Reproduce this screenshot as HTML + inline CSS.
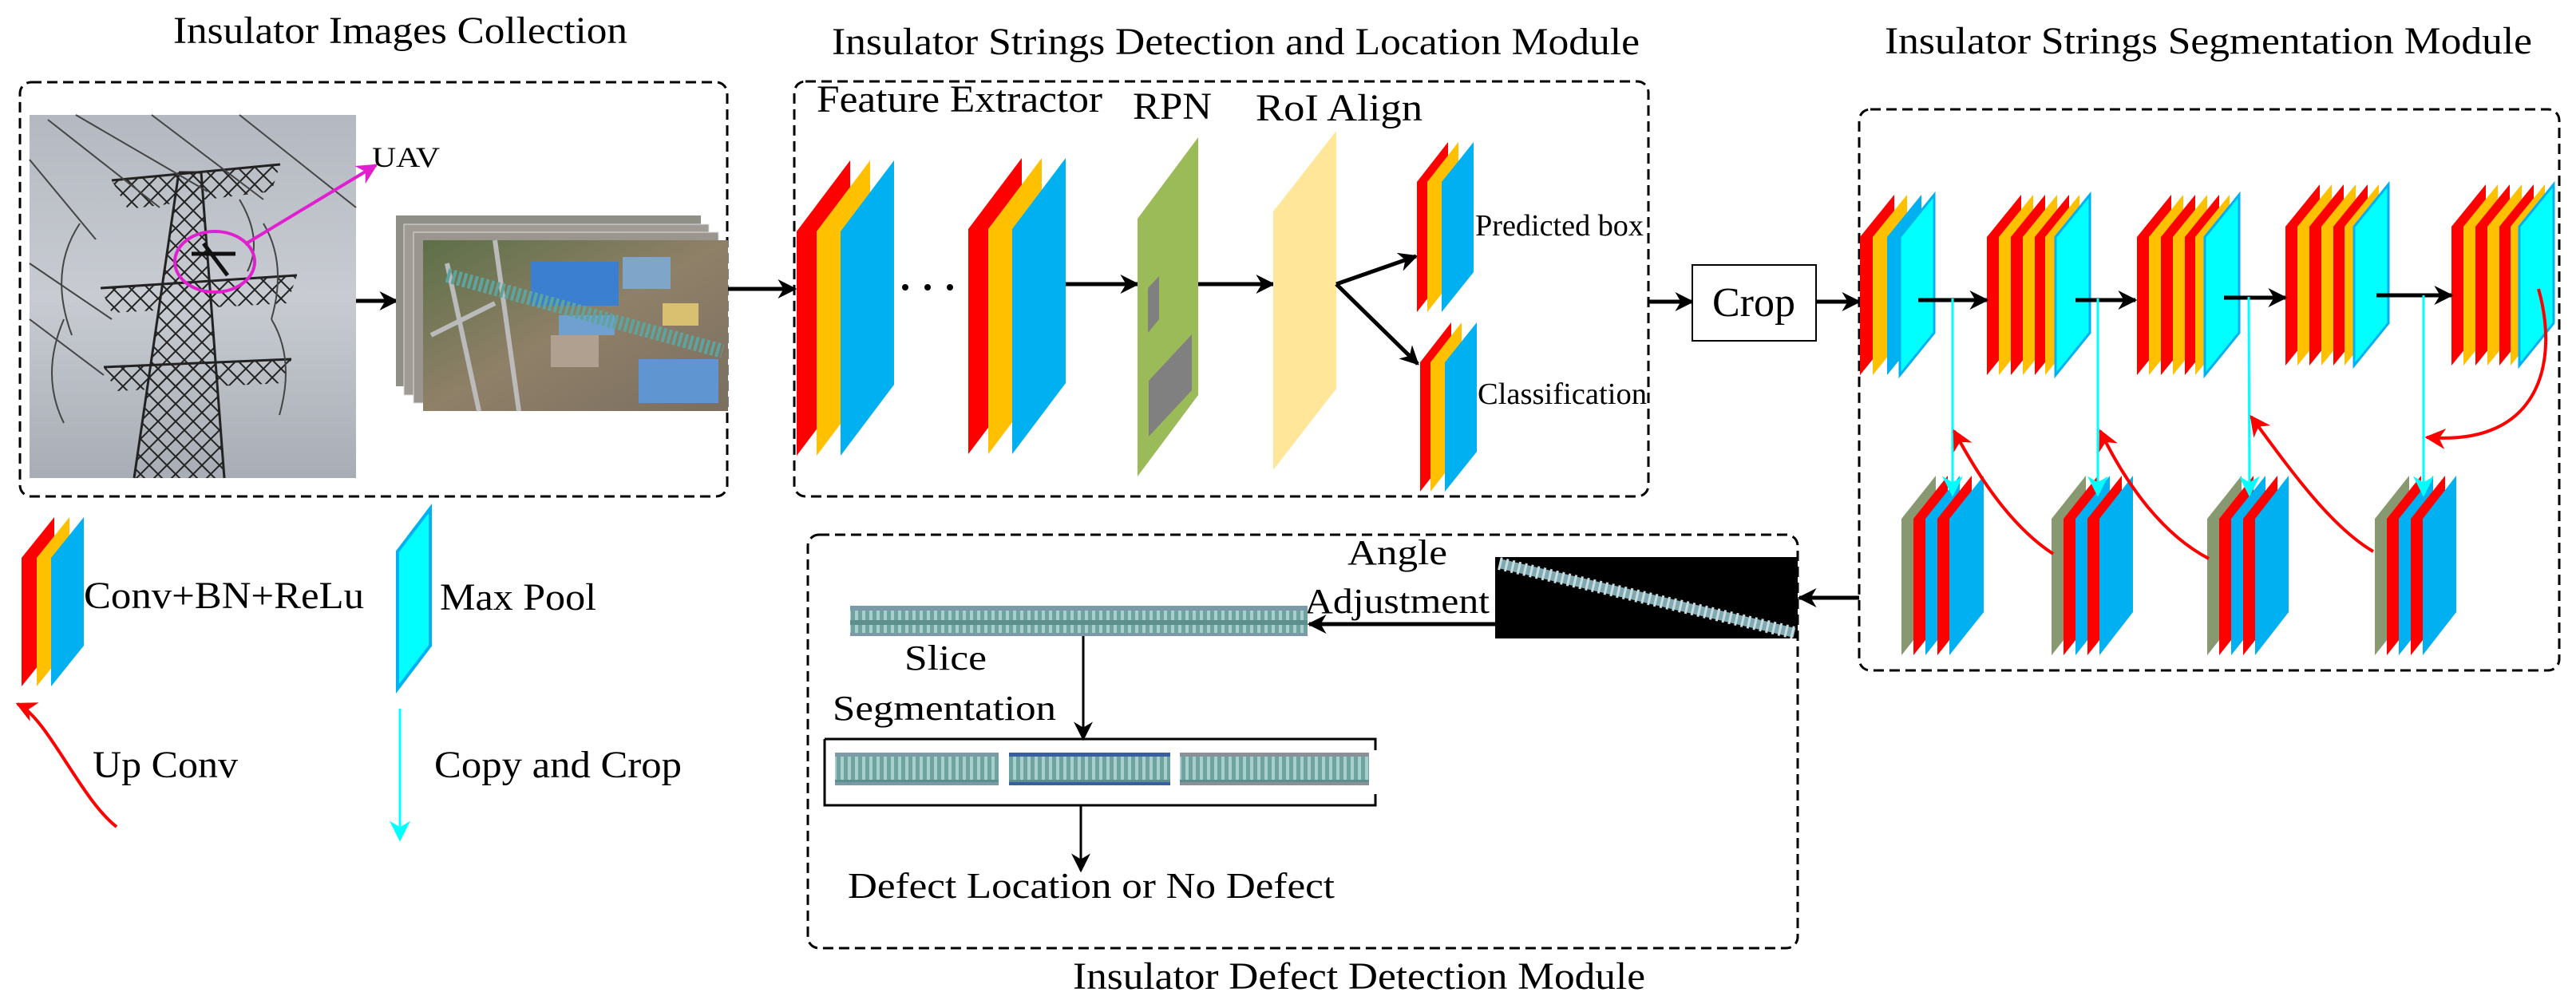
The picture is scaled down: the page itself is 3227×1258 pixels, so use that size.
<!DOCTYPE html>
<html><head><meta charset="utf-8"><style>
html,body{margin:0;padding:0;background:#fff;}
svg{display:block;}
text{font-family:"Liberation Serif",serif;fill:#000;}
</style></head><body>
<svg width="3227" height="1258" viewBox="0 0 3227 1258" xmlns="http://www.w3.org/2000/svg">
<defs>
<marker id="ab" viewBox="0 0 10 10" refX="9" refY="5" markerWidth="24" markerHeight="24" markerUnits="userSpaceOnUse" orient="auto"><path d="M0,0 L10,5 L0,10 L3,5 z" fill="#000"/></marker>
<marker id="ac" viewBox="0 0 10 10" refX="9" refY="5" markerWidth="26" markerHeight="26" markerUnits="userSpaceOnUse" orient="auto"><path d="M0,0 L10,5 L0,10 L3,5 z" fill="#00FFFF"/></marker>
<marker id="ar" viewBox="0 0 10 10" refX="9" refY="5" markerWidth="26" markerHeight="26" markerUnits="userSpaceOnUse" orient="auto"><path d="M0,0 L10,5 L0,10 L3,5 z" fill="#FF0000"/></marker>
<marker id="am" viewBox="0 0 10 10" refX="9" refY="5" markerWidth="26" markerHeight="26" markerUnits="userSpaceOnUse" orient="auto"><path d="M0,0 L10,5 L0,10 L3,5 z" fill="#E020D0"/></marker>
<linearGradient id="sky" x1="0" y1="0" x2="0" y2="1"><stop offset="0" stop-color="#b4b8c0"/><stop offset="0.5" stop-color="#c8ccd2"/><stop offset="1" stop-color="#a8adb5"/></linearGradient>
<linearGradient id="ground" x1="0" y1="0" x2="1" y2="1"><stop offset="0" stop-color="#5d7048"/><stop offset="0.5" stop-color="#8f8068"/><stop offset="1" stop-color="#7a6e60"/></linearGradient>
<pattern id="fins" width="9" height="40" patternUnits="userSpaceOnUse"><rect width="9" height="40" fill="#6fa3a0"/><rect x="0" width="4" height="40" fill="#a9cfcc"/><rect x="0" y="17" width="9" height="6" fill="#5d8f8c"/></pattern>
<pattern id="lat" width="22" height="22" patternUnits="userSpaceOnUse"><path d="M0,0 L22,22 M22,0 L0,22" stroke="#222" stroke-width="2"/></pattern>
</defs>

<text x="217" y="54" font-size="48" textLength="569" lengthAdjust="spacingAndGlyphs">Insulator Images Collection</text>
<text x="1042" y="68" font-size="48" textLength="1012" lengthAdjust="spacingAndGlyphs">Insulator Strings Detection and Location Module</text>
<text x="2361" y="67" font-size="48" textLength="811" lengthAdjust="spacingAndGlyphs">Insulator Strings Segmentation Module</text>
<text x="1344" y="1239" font-size="48" textLength="717" lengthAdjust="spacingAndGlyphs">Insulator Defect Detection Module</text>

<g fill="none" stroke="#000" stroke-width="3" stroke-dasharray="13 7">
<rect x="25" y="103" width="886" height="519" rx="14"/>
<rect x="995" y="102" width="1070" height="520" rx="14"/>
<rect x="2329" y="137" width="877" height="703" rx="14"/>
<rect x="1012" y="670" width="1240" height="518" rx="14"/>
</g>

<!-- Tower photo -->
<rect x="37" y="144" width="409" height="455" fill="url(#sky)"/>
<polygon points="168,599 224,216 252,216 281,599" fill="url(#lat)"/>
<polygon points="140,226 351,206 340,240 160,262" fill="url(#lat)"/>
<polygon points="126,361 372,345 360,380 140,392" fill="url(#lat)"/>
<polygon points="130,460 365,450 355,480 145,490" fill="url(#lat)"/>
<g stroke="#222" stroke-width="3" fill="none">
<path d="M168,599 L224,216 M281,599 L252,216 M224,216 L252,216"/>
<path d="M140,226 L351,206 M126,361 L372,345 M130,460 L365,450"/>
</g>
<g stroke="#444" stroke-width="2" fill="none">
<path d="M60,150 L200,260 M95,144 L260,240 M190,144 L330,250 M300,144 L446,260 M37,330 L140,400 M37,400 L130,470 M37,200 L120,300"/>
<path d="M100,280 Q60,340 90,420 M80,400 Q50,470 80,530 M330,280 Q360,330 340,400 M340,400 Q370,450 350,520 M300,250 Q330,300 310,340"/>
</g>
<ellipse cx="269" cy="328" rx="50" ry="38" fill="none" stroke="#E020D0" stroke-width="4"/>
<path d="M240,318 L295,318 M255,305 L285,345" stroke="#111" stroke-width="5"/>
<line x1="307" y1="306" x2="471" y2="207" stroke="#E020D0" stroke-width="4" marker-end="url(#am)"/>
<text x="466" y="209" font-size="36" textLength="85" lengthAdjust="spacingAndGlyphs">UAV</text>

<line x1="446" y1="377" x2="497" y2="377" stroke="#000" stroke-width="5" marker-end="url(#ab)"/>

<rect x="496" y="270" width="382" height="214" fill="#8f8f88"/>
<rect x="506" y="281" width="382" height="214" fill="#a09c95" stroke="#ddd"/>
<rect x="518" y="291" width="382" height="214" fill="#9a968f" stroke="#ddd"/>
<rect x="530" y="301" width="382" height="214" fill="url(#ground)"/>
<rect x="665" y="328" width="110" height="55" fill="#3a7fd0"/>
<rect x="780" y="322" width="60" height="40" fill="#7fa6c8"/>
<rect x="800" y="450" width="100" height="55" fill="#5f95d0"/>
<rect x="700" y="395" width="70" height="25" fill="#6fa0d0"/>
<rect x="830" y="380" width="45" height="28" fill="#d8c070"/>
<rect x="690" y="420" width="60" height="40" fill="#b0a090"/>
<path d="M560,330 L600,515 M620,301 L650,515 M540,420 L620,380" stroke="#bbb" stroke-width="6" fill="none"/>
<line x1="560" y1="345" x2="905" y2="440" stroke="#5ea39c" stroke-width="18" stroke-dasharray="4 3"/>
<line x1="912" y1="362" x2="996" y2="362" stroke="#000" stroke-width="5" marker-end="url(#ab)"/>

<text x="1023" y="140" font-size="48" textLength="358" lengthAdjust="spacingAndGlyphs">Feature Extractor</text>
<text x="1419" y="149" font-size="48" textLength="99" lengthAdjust="spacingAndGlyphs">RPN</text>
<text x="1573" y="151" font-size="48" textLength="209" lengthAdjust="spacingAndGlyphs">RoI Align</text>

<polygon points="998,290 1065,201 1065,482 998,571" fill="#FF0000"/>
<polygon points="1023,290 1090,201 1090,482 1023,571" fill="#FFC000"/>
<polygon points="1053,290 1120,201 1120,482 1053,571" fill="#00B0F0"/>
<circle cx="1134" cy="360" r="4" fill="#000"/><circle cx="1162" cy="360" r="4" fill="#000"/><circle cx="1190" cy="360" r="4" fill="#000"/>
<polygon points="1213,287 1280,198 1280,480 1213,569" fill="#FF0000"/>
<polygon points="1238,287 1305,198 1305,480 1238,569" fill="#FFC000"/>
<polygon points="1268,287 1335,198 1335,480 1268,569" fill="#00B0F0"/>
<line x1="1335" y1="356" x2="1425" y2="356" stroke="#000" stroke-width="5" marker-end="url(#ab)"/>
<polygon points="1425,274 1501,172 1501,495 1425,597" fill="#9BBB59"/>
<polygon points="1438,361 1452,346 1452,400 1438,417" fill="#808080"/>
<polygon points="1439,477 1493,419 1493,489 1439,547" fill="#808080"/>
<line x1="1501" y1="356" x2="1595" y2="356" stroke="#000" stroke-width="5" marker-end="url(#ab)"/>
<polygon points="1595,265 1674,164 1674,487 1595,589" fill="#FFE699"/>
<line x1="1674" y1="356" x2="1774" y2="321" stroke="#000" stroke-width="5" marker-end="url(#ab)"/>
<line x1="1674" y1="356" x2="1776" y2="456" stroke="#000" stroke-width="5" marker-end="url(#ab)"/>
<polygon points="1775,228 1814,178 1814,341 1775,391" fill="#FF0000"/>
<polygon points="1788,228 1827,178 1827,341 1788,391" fill="#FFC000"/>
<polygon points="1806,228 1846,178 1846,341 1806,391" fill="#00B0F0"/>
<polygon points="1779,454 1818,404 1818,566 1779,616" fill="#FF0000"/>
<polygon points="1792,454 1831,404 1831,566 1792,616" fill="#FFC000"/>
<polygon points="1810,454 1850,404 1850,566 1810,616" fill="#00B0F0"/>
<text x="1848" y="295" font-size="38" textLength="211" lengthAdjust="spacingAndGlyphs">Predicted box</text>
<text x="1851" y="506" font-size="38" textLength="212" lengthAdjust="spacingAndGlyphs">Classification</text>

<line x1="2065" y1="378" x2="2120" y2="378" stroke="#000" stroke-width="5" marker-end="url(#ab)"/>
<rect x="2120" y="332" width="155" height="95" fill="#fff" stroke="#000" stroke-width="2"/>
<text x="2197" y="396" font-size="52" text-anchor="middle">Crop</text>
<line x1="2275" y1="378" x2="2329" y2="378" stroke="#000" stroke-width="5" marker-end="url(#ab)"/>

<g>
<polygon points="2330,297 2373,244 2373,417 2330,470" fill="#FF0000"/>
<polygon points="2346,297 2389,244 2389,417 2346,470" fill="#FFC000"/>
<polygon points="2364,297 2407,244 2407,417 2364,470" fill="#00B0F0"/>
<polygon points="2380,297 2423,244 2423,417 2380,470" fill="#00FFFF" stroke="#00B0F0" stroke-width="3"/>

<polygon points="2489,297 2532,244 2532,417 2489,470" fill="#FF0000"/>
<polygon points="2504,297 2547,244 2547,417 2504,470" fill="#FFC000"/>
<polygon points="2519,297 2562,244 2562,417 2519,470" fill="#FF0000"/>
<polygon points="2534,297 2577,244 2577,417 2534,470" fill="#FFC000"/>
<polygon points="2549,297 2592,244 2592,417 2549,470" fill="#FF0000"/>
<polygon points="2562,297 2605,244 2605,417 2562,470" fill="#FFC000"/>
<polygon points="2575,297 2618,244 2618,417 2575,470" fill="#00FFFF" stroke="#00B0F0" stroke-width="3"/>

<polygon points="2677,297 2720,244 2720,417 2677,470" fill="#FF0000"/>
<polygon points="2692,297 2735,244 2735,417 2692,470" fill="#FFC000"/>
<polygon points="2707,297 2750,244 2750,417 2707,470" fill="#FF0000"/>
<polygon points="2722,297 2765,244 2765,417 2722,470" fill="#FFC000"/>
<polygon points="2737,297 2780,244 2780,417 2737,470" fill="#FF0000"/>
<polygon points="2750,297 2793,244 2793,417 2750,470" fill="#FFC000"/>
<polygon points="2762,297 2805,244 2805,417 2762,470" fill="#00FFFF" stroke="#00B0F0" stroke-width="3"/>

<polygon points="2863,284 2906,231 2906,405 2863,458" fill="#FF0000"/>
<polygon points="2878,284 2921,231 2921,405 2878,458" fill="#FFC000"/>
<polygon points="2893,284 2936,231 2936,405 2893,458" fill="#FF0000"/>
<polygon points="2908,284 2951,231 2951,405 2908,458" fill="#FFC000"/>
<polygon points="2923,284 2966,231 2966,405 2923,458" fill="#FF0000"/>
<polygon points="2937,284 2980,231 2980,405 2937,458" fill="#FFC000"/>
<polygon points="2949,284 2992,231 2992,405 2949,458" fill="#00FFFF" stroke="#00B0F0" stroke-width="3"/>

<polygon points="3071,284 3114,231 3114,405 3071,458" fill="#FF0000"/>
<polygon points="3086,284 3129,231 3129,405 3086,458" fill="#FFC000"/>
<polygon points="3101,284 3144,231 3144,405 3101,458" fill="#FF0000"/>
<polygon points="3116,284 3159,231 3159,405 3116,458" fill="#FFC000"/>
<polygon points="3131,284 3174,231 3174,405 3131,458" fill="#FF0000"/>
<polygon points="3145,284 3188,231 3188,405 3145,458" fill="#FFC000"/>
<polygon points="3156,284 3199,231 3199,405 3156,458" fill="#00FFFF" stroke="#00B0F0" stroke-width="3"/>
</g>
<g stroke="#000" stroke-width="5">
<line x1="2403" y1="376" x2="2489" y2="376" marker-end="url(#ab)"/>
<line x1="2600" y1="376" x2="2675" y2="376" marker-end="url(#ab)"/>
<line x1="2786" y1="373" x2="2863" y2="373" marker-end="url(#ab)"/>
<line x1="2977" y1="370" x2="3071" y2="370" marker-end="url(#ab)"/>
</g>

<g>
<polygon points="2382,650 2425,596 2425,767 2382,821" fill="#889870"/>
<polygon points="2397,650 2440,596 2440,767 2397,821" fill="#FF0000"/>
<polygon points="2412,650 2455,596 2455,767 2412,821" fill="#00B0F0"/>
<polygon points="2427,650 2470,596 2470,767 2427,821" fill="#FF0000"/>
<polygon points="2442,650 2485,596 2485,767 2442,821" fill="#00B0F0"/>

<polygon points="2570,650 2613,596 2613,767 2570,821" fill="#889870"/>
<polygon points="2585,650 2628,596 2628,767 2585,821" fill="#FF0000"/>
<polygon points="2600,650 2643,596 2643,767 2600,821" fill="#00B0F0"/>
<polygon points="2615,650 2658,596 2658,767 2615,821" fill="#FF0000"/>
<polygon points="2630,650 2672,596 2672,767 2630,821" fill="#00B0F0"/>

<polygon points="2765,650 2808,596 2808,767 2765,821" fill="#889870"/>
<polygon points="2780,650 2823,596 2823,767 2780,821" fill="#FF0000"/>
<polygon points="2795,650 2838,596 2838,767 2795,821" fill="#00B0F0"/>
<polygon points="2810,650 2853,596 2853,767 2810,821" fill="#FF0000"/>
<polygon points="2825,650 2867,596 2867,767 2825,821" fill="#00B0F0"/>

<polygon points="2975,650 3018,596 3018,767 2975,821" fill="#889870"/>
<polygon points="2990,650 3033,596 3033,767 2990,821" fill="#FF0000"/>
<polygon points="3005,650 3048,596 3048,767 3005,821" fill="#00B0F0"/>
<polygon points="3020,650 3063,596 3063,767 3020,821" fill="#FF0000"/>
<polygon points="3035,650 3077,596 3077,767 3035,821" fill="#00B0F0"/>
</g>
<g stroke="#00FFFF" stroke-width="3">
<line x1="2446" y1="374" x2="2446" y2="620" marker-end="url(#ac)"/>
<line x1="2628" y1="374" x2="2628" y2="620" marker-end="url(#ac)"/>
<line x1="2817" y1="372" x2="2818" y2="620" marker-end="url(#ac)"/>
<line x1="3036" y1="370" x2="3036" y2="620" marker-end="url(#ac)"/>
</g>
<g stroke="#FF0000" stroke-width="4" fill="none">
<path d="M3180,362 C3205,450 3185,560 3040,548" marker-end="url(#ar)"/>
<path d="M2572,694 C2520,660 2480,600 2448,540" marker-end="url(#ar)"/>
<path d="M2767,700 C2710,670 2665,610 2631,540" marker-end="url(#ar)"/>
<path d="M2973,691 C2920,660 2870,590 2820,522" marker-end="url(#ar)"/>
</g>

<line x1="2329" y1="749" x2="2254" y2="749" stroke="#000" stroke-width="5" marker-end="url(#ab)"/>
<rect x="1873" y="698" width="379" height="102" fill="#000"/>
<line x1="1878" y1="706" x2="2248" y2="793" stroke="#7fa8b0" stroke-width="12"/>
<line x1="1878" y1="706" x2="2248" y2="793" stroke="#c8dde0" stroke-width="16" stroke-dasharray="3 5"/>
<text x="1688" y="707" font-size="44" textLength="125" lengthAdjust="spacingAndGlyphs">Angle</text>
<text x="1634" y="768" font-size="44" textLength="232" lengthAdjust="spacingAndGlyphs">Adjustment</text>
<line x1="1873" y1="782" x2="1640" y2="782" stroke="#000" stroke-width="5" marker-end="url(#ab)"/>
<rect x="1065" y="759" width="573" height="38" fill="#7a9aa8"/>
<rect x="1065" y="765" width="573" height="28" fill="url(#fins)"/>
<text x="1133" y="839" font-size="44" textLength="103" lengthAdjust="spacingAndGlyphs">Slice</text>
<text x="1043" y="902" font-size="44" textLength="280" lengthAdjust="spacingAndGlyphs">Segmentation</text>
<line x1="1357" y1="797" x2="1357" y2="926" stroke="#000" stroke-width="3" marker-end="url(#ab)"/>
<path d="M1033,926 L1723,926 L1723,940 M1033,926 L1033,1009 L1723,1009 L1723,995" fill="none" stroke="#000" stroke-width="3"/>
<rect x="1046" y="943" width="205" height="41" fill="#7a9aa8"/>
<rect x="1046" y="948" width="205" height="32" fill="url(#fins)"/>
<rect x="1264" y="943" width="202" height="41" fill="#3a5fa0"/>
<rect x="1264" y="948" width="202" height="32" fill="url(#fins)"/>
<rect x="1478" y="943" width="237" height="41" fill="#8a8f98"/>
<rect x="1478" y="948" width="237" height="32" fill="url(#fins)"/>
<line x1="1354" y1="1009" x2="1354" y2="1091" stroke="#000" stroke-width="3" marker-end="url(#ab)"/>
<text x="1062" y="1125" font-size="46" textLength="610" lengthAdjust="spacingAndGlyphs">Defect Location or No Defect</text>

<polygon points="27,699 68,648 68,809 27,860" fill="#FF0000"/>
<polygon points="46,699 87,648 87,809 46,860" fill="#FFC000"/>
<polygon points="64,699 105,648 105,809 64,860" fill="#00B0F0"/>
<text x="105" y="762" font-size="48" textLength="351" lengthAdjust="spacingAndGlyphs">Conv+BN+ReLu</text>
<polygon points="498,691 539,637 539,809 498,863" fill="#00FFFF" stroke="#00B0F0" stroke-width="4"/>
<text x="551" y="764" font-size="48" textLength="196" lengthAdjust="spacingAndGlyphs">Max Pool</text>
<path d="M146,1036 C100,1000 60,900 22,882" fill="none" stroke="#FF0000" stroke-width="4" marker-end="url(#ar)"/>
<text x="116" y="974" font-size="48" textLength="182" lengthAdjust="spacingAndGlyphs">Up Conv</text>
<line x1="501" y1="888" x2="501" y2="1052" stroke="#00FFFF" stroke-width="3" marker-end="url(#ac)"/>
<text x="544" y="974" font-size="48" textLength="310" lengthAdjust="spacingAndGlyphs">Copy and Crop</text>
</svg>
</body></html>
